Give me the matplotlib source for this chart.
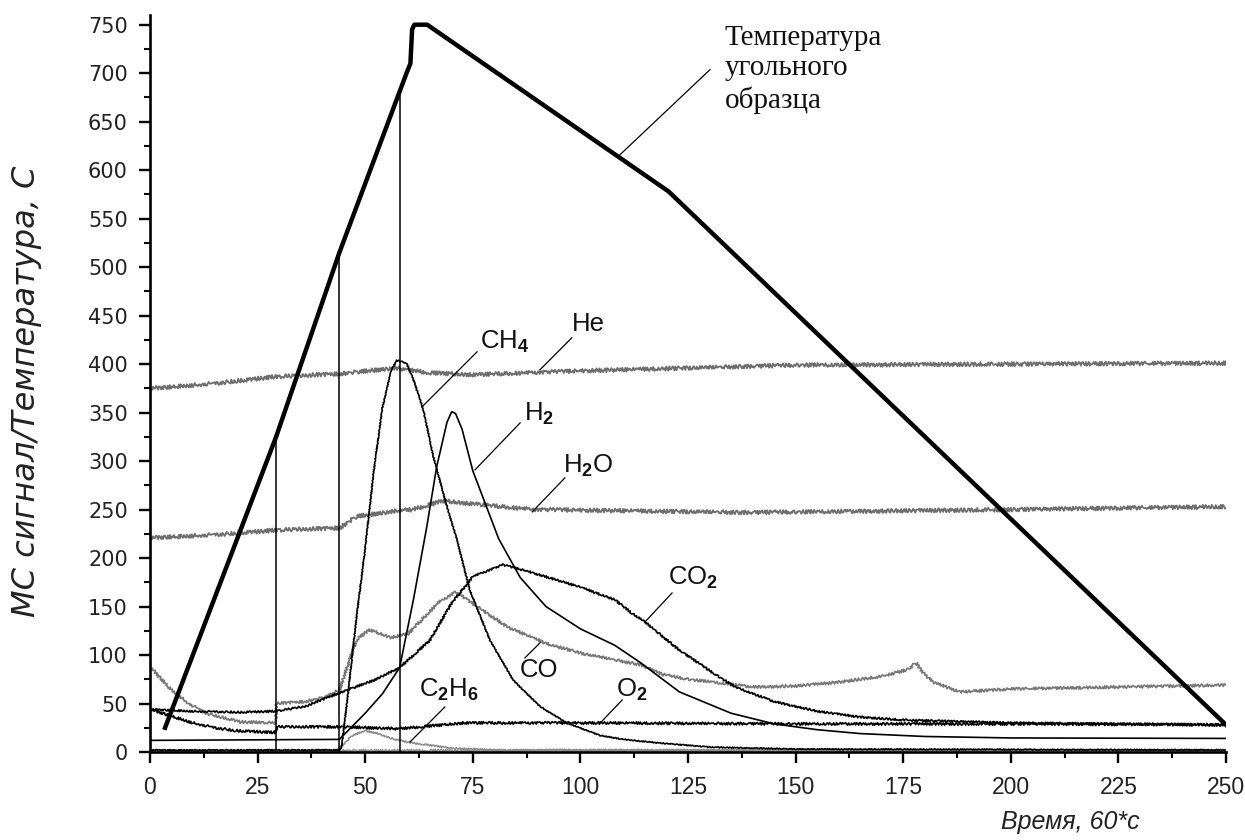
import numpy as np
import matplotlib
matplotlib.use("Agg")
import matplotlib.pyplot as plt

plt.rcParams['mathtext.fontset'] = 'custom'
plt.rcParams['mathtext.rm'] = 'Liberation Sans'
plt.rcParams['mathtext.bf'] = 'Liberation Sans:bold'
plt.rcParams['mathtext.it'] = 'Liberation Sans:italic'

# ---- sample temperature (thick curve) ----
temp_t = [3.5, 29.3, 44.0, 59.6, 60.5, 60.9, 61.4, 64.4, 120.5, 250.0]
temp_v = [25, 325, 515, 700, 710, 745, 750, 750, 578, 28]

# times of the marked temperature points and the temperature there
mark_t = [29.3, 43.8, 58.2]
mark_v = [325, 510, 684]

# ---- mass-spectrometer signals ----
he_t = [0, 15, 29, 44, 57, 65, 75, 100, 125, 150, 200, 250]
he_v = [375, 380, 387, 390, 396, 391, 389, 393, 396, 399, 400, 401]

h2o_t = [0, 15, 30, 44, 48, 58, 61, 68, 77, 89, 139, 200, 250]
h2o_v = [221, 224, 229, 231, 243, 249, 250, 259, 255, 250, 247, 250, 253]

ch4_t = [0, 44, 44.5, 46, 48, 50, 52, 54, 56, 57.3, 59.6, 61.2, 63.5, 65.8, 69,
         71.3, 74.3, 79, 84.4, 90.6, 96.8, 104.6, 110, 119, 130, 150, 250]
ch4_v = [2, 2, 5, 60, 140, 210, 290, 355, 393, 404, 401, 384, 353, 305, 253,
         219, 167, 115, 74, 47, 30, 17, 13, 9, 5, 3, 2]

h2_t = [0, 44, 50, 54, 58, 61.2, 64.3, 66.6, 69, 70.1, 71, 72.5, 75, 78, 81, 86, 92,
        100, 108, 114, 123, 135, 145, 155, 165, 180, 200, 250]
h2_v = [12, 13, 40, 60, 87, 157, 232, 294, 340, 351, 349, 333, 290, 255, 220, 180, 150,
        127, 110, 92, 62, 40, 29, 23, 19, 16, 14.5, 14]

co2_t = [0, 10, 21, 29, 36, 44, 52, 58, 65, 70, 75, 82, 88, 100, 108, 112, 115,
         123, 131, 136, 145, 155, 165, 175, 200, 250]
co2_v = [44, 42, 41, 42, 47, 61, 74, 87, 115, 153, 181, 193, 186, 170, 157, 143, 134,
         105, 81, 67, 52, 42, 36, 33, 30, 28]

co_t = [0, 5, 9, 13, 21, 29.3, 29.3, 36, 41, 44, 48, 51, 56, 60, 67, 71, 77, 83, 92,
        100, 108, 114, 119, 125, 131, 140, 150, 160, 170, 176, 178, 179.5, 182, 188,
        200, 225, 250]
co_v = [88, 64, 50, 40, 31, 30, 50, 52, 57, 64, 116, 126, 118, 122, 154, 165, 147, 129, 112,
        102, 95, 90, 80, 75, 72, 67, 68, 72, 78, 85, 92, 82, 72, 62,
        65, 67, 69]

o2_t = [0, 5, 10, 15, 20, 29.3, 29.3, 44, 58, 63, 73, 100, 150, 200, 250]
o2_v = [44, 37, 30, 25, 22, 20, 26, 26, 24, 26, 30, 30, 29, 29, 28]

c2h6_t = [0, 43, 45, 47, 50, 53, 56, 60, 65, 70, 80, 250]
c2h6_v = [1, 1, 8, 17, 22, 19, 14, 10, 7, 4, 2, 2]

base_t = [0, 250]
base_v = [2, 2]

fig = plt.figure(figsize=(12.45, 8.4), dpi=100)
ax = fig.add_axes([150 / 1245, 88 / 840, 1076 / 1245, 737 / 840])
ax.set_xlim(0, 250)
ax.set_ylim(0, 760)

GRAY = '#6e6e6e'
LIGHT = '#8a8a8a'


def noisy(line, amp, length=3.0):
    line.set_sketch_params(scale=amp, length=length, randomness=2.0)
    return line


noisy(ax.plot(base_t, base_v, color=LIGHT, lw=1.0)[0], 1.2)
noisy(ax.plot(c2h6_t, c2h6_v, color=LIGHT, lw=1.1)[0], 0.8)
noisy(ax.plot(he_t, he_v, color=GRAY, lw=1.3)[0], 2.0)
noisy(ax.plot(h2o_t, h2o_v, color=GRAY, lw=1.3)[0], 2.0)
noisy(ax.plot(co_t, co_v, color='#777777', lw=1.2)[0], 1.4)
noisy(ax.plot(o2_t, o2_v, color='black', lw=1.2)[0], 1.3)
noisy(ax.plot(co2_t, co2_v, color='black', lw=1.2)[0], 1.0)
noisy(ax.plot(ch4_t, ch4_v, color='black', lw=1.2)[0], 0.5)
ax.plot(h2_t, h2_v, color='black', lw=1.2)

ax.plot(temp_t, temp_v, color='black', lw=3.2, solid_joinstyle='round')
ax.vlines(mark_t, 0, mark_v, colors='black', lw=1.1)

# curve labels with leader lines
sans = 'Liberation Sans'
labels = [
    ('He', (101.8, 441.6), [(98.0, 427.1), (90.6, 394.1)]),
    (r'CH$_\mathbf{4}$', (82.5, 423.0), [(76.0, 412.7), (63.2, 355.9)]),
    (r'H$_\mathbf{2}$', (90.3, 349.0), [(86.0, 339.4), (75.5, 290.9)]),
    (r'H$_\mathbf{2}$O', (101.8, 295.0), [(96.4, 282.7), (88.8, 247.6)]),
    (r'CO$_\mathbf{2}$', (126.2, 180.0), [(121.3, 164.0), (115.0, 134.1)]),
    ('CO', (90.4, 84.6), [(87.1, 97.0), (90.6, 112.5)]),
    (r'C$_\mathbf{2}$H$_\mathbf{6}$', (69.5, 64.0), [(68.5, 46.4), (60.4, 10.3)]),
    (r'O$_\mathbf{2}$', (112.0, 64.0), [(109.7, 53.6), (104.6, 29.9)]),
]
for txt, (tx, ty), seg in labels:
    ax.text(tx, ty, txt, fontsize=18.5, family=sans, color='#111111',
            ha='center', va='center')
    (x0, y0), (x1, y1) = seg
    ax.plot([x0, x1], [y0, y1], color='black', lw=0.9)

ax.plot([109.2, 130.1], [615.9, 703.6], color='black', lw=0.9)
ax.text(133.5, 704, 'Температура\nугольного\nобразца', fontsize=21,
        family='Liberation Serif', color='#111111', ha='left', va='center',
        linespacing=1.22)

# axes styling
for side in ('top', 'right'):
    ax.spines[side].set_visible(False)
ax.spines['left'].set_linewidth(1.9)
ax.spines['bottom'].set_linewidth(1.9)

ax.set_xticks(np.arange(0, 251, 25))
ax.set_xticks(np.arange(0, 251, 12.5), minor=True)
ax.set_yticks(np.arange(0, 751, 50))
ax.set_yticks(np.arange(0, 751, 25), minor=True)
ax.tick_params(which='major', direction='out', length=8, width=1.7)
ax.tick_params(which='minor', direction='out', length=4.5, width=1.5)
ax.tick_params(axis='x', which='major', pad=9)
ax.tick_params(axis='y', which='major', pad=8)
for lab in ax.get_xticklabels():
    lab.set_family(sans)
    lab.set_fontsize(16.5)
    lab.set_color('#222222')
for lab in ax.get_yticklabels():
    lab.set_family('DejaVu Sans')
    lab.set_fontsize(15)
    lab.set_color('#222222')

ax.set_ylabel('МС сигнал/Температура, С', fontsize=23, family='DejaVu Sans',
              style='italic', color='#222222')
ax.yaxis.set_label_coords(-0.100, 0.49)
xl = ax.set_xlabel('Время, 60*с', fontsize=18, family=sans, style='italic',
                   color='#222222')
ax.xaxis.set_label_coords(0.855, -0.095)
xl.set_va('center')

fig.savefig('out.png', dpi=100)
